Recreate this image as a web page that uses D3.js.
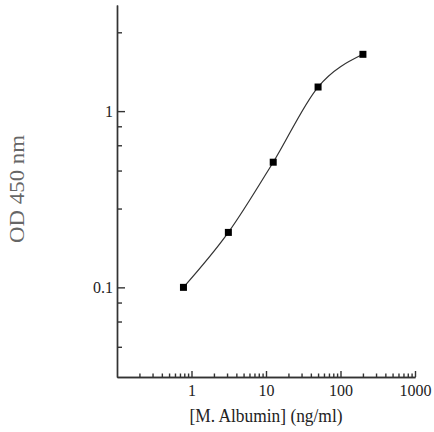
<!DOCTYPE html>
<html>
<head>
<meta charset="utf-8">
<script src="https://cdn.jsdelivr.net/npm/d3@7"></script>
<style>
  body { margin: 0; background: #fff; }
  svg { display: block; }
  svg text { font-family: "Liberation Serif", "Times New Roman", serif; }
</style>
</head>
<body>
<div id="chart"></div>
<script>
// concentrations (ng/ml) and OD readings
var conc = [0.78, 3.125, 12.5, 50, 200];
var od = [0.1, 0.205, 0.513, 1.37, 2.1];

var xMajor = [1, 10, 100, 1000];
var xMinor = [0.2, 0.3, 0.4, 0.5, 0.6, 0.7, 0.8, 0.9,
              2, 3, 4, 5, 6, 7, 8, 9,
              20, 30, 40, 50, 60, 70, 80, 90,
              200, 300, 400, 500, 600, 700, 800, 900];
var yMajor = [0.1, 1];
var yMinor = [0.046, 0.064, 0.082, 0.28, 0.46, 0.64, 0.82, 2.8];

var width = 434,
    height = 432;

var svg = d3.select("#chart")
    .append("svg")
    .attr("width", width)
    .attr("height", height);

// scales
var x = d3.scaleLog()
    .domain([0.1, 1000])
    .range([117, 415]);

var y = d3.scaleLog()
    .domain([0.031, 4])
    .range([377, 5]);

var axisColor = "#333";

// x axis, ticks pointing inward
var xAxisMajor = d3.axisBottom(x)
    .tickValues(xMajor)
    .tickFormat(d3.format("d"))
    .tickSizeInner(-6)
    .tickSizeOuter(0)
    .tickPadding(8);

var xAxisMinor = d3.axisBottom(x)
    .tickValues(xMinor)
    .tickFormat("")
    .tickSizeInner(-3.5)
    .tickSizeOuter(0);

svg.append("g")
    .attr("transform", "translate(0,377)")
    .call(xAxisMinor);

var gx = svg.append("g")
    .attr("transform", "translate(0,377)")
    .call(xAxisMajor);

// y axis
var yAxisMajor = d3.axisLeft(y)
    .tickValues(yMajor)
    .tickFormat(d => d == 1 ? "1" : "0.1")
    .tickSizeInner(-8)
    .tickSizeOuter(0)
    .tickPadding(4);

var yAxisMinor = d3.axisLeft(y)
    .tickValues(yMinor)
    .tickFormat("")
    .tickSizeInner(-5)
    .tickSizeOuter(0);

svg.append("g")
    .attr("transform", "translate(117,0)")
    .call(yAxisMinor);

var gy = svg.append("g")
    .attr("transform", "translate(117,0)")
    .call(yAxisMajor);

svg.selectAll(".domain, .tick line")
    .attr("stroke", axisColor)
    .attr("stroke-width", 1.4);

gx.attr("font-size", 16).attr("font-family", "Liberation Serif");
gy.attr("font-size", 16).attr("font-family", "Liberation Serif");
svg.selectAll(".tick text")
    .attr("fill", "#222");

// fitted curve
var pts = conc.map((c, i) => ({ c: c, v: od[i] }));

var line = d3.line()
    .x(d => x(d.c))
    .y(d => y(d.v))
    .curve(d3.curveMonotoneX);

svg.append("path")
    .datum(pts)
    .attr("d", line)
    .attr("fill", "none")
    .attr("stroke", "#333")
    .attr("stroke-width", 1.2);

// markers
svg.selectAll(".pt")
    .data(pts)
    .enter()
    .append("rect")
    .attr("class", "pt")
    .attr("x", d => x(d.c) - 3.5)
    .attr("y", d => y(d.v) - 3.5)
    .attr("width", 7)
    .attr("height", 7)
    .attr("fill", "#000");

// axis titles (the source is a bit squeezed horizontally)
svg.append("text")
    .attr("x", 266)
    .attr("y", 422)
    .attr("text-anchor", "middle")
    .attr("fill", "#222")
    .attr("font-size", 19.5)
    .attr("textLength", 153)
    .attr("lengthAdjust", "spacingAndGlyphs")
    .text("[M. Albumin] (ng/ml)");

svg.append("text")
    .attr("transform", "translate(24,189) rotate(-90)")
    .attr("text-anchor", "middle")
    .attr("fill", "#666")
    .attr("font-size", 20)
    .attr("textLength", 108)
    .attr("lengthAdjust", "spacingAndGlyphs")
    .text("OD 450 nm");
</script>
</body>
</html>
